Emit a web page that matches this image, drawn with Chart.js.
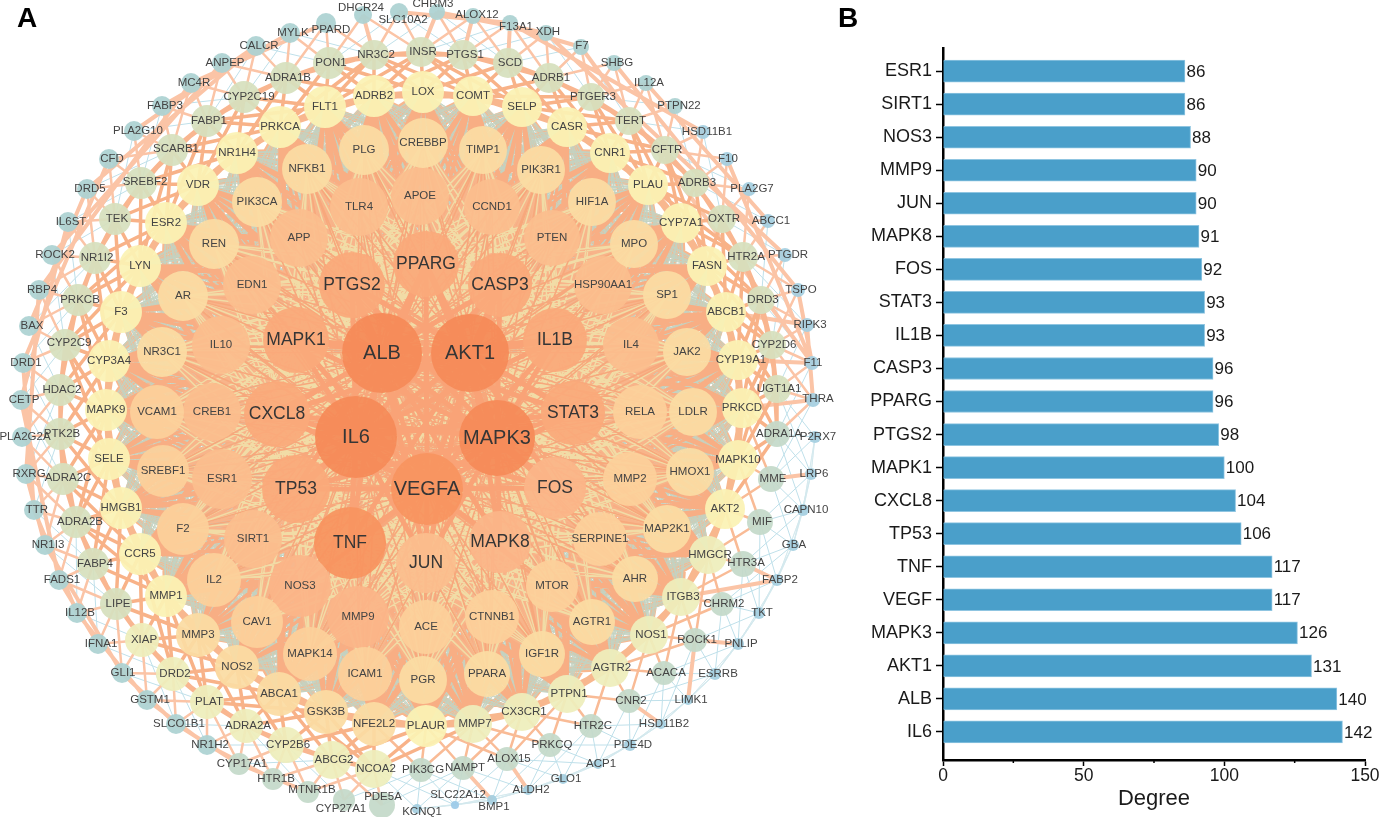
<!DOCTYPE html>
<html>
<head>
<meta charset="utf-8">
<style>
  html, body { margin: 0; padding: 0; background: #fff; overflow: hidden; height: 817px; }
  canvas { position: absolute; }
  /* le bubble chart garde une marge egale au plus grand rayon (41 px) */
  #network { left: -41px; top: -41px; }
  #degree { left: 840px; top: 0; }
  .panel { position: absolute; font: bold 28px "Liberation Sans", sans-serif; color: #000; }
</style>
<script src="https://cdn.jsdelivr.net/npm/chart.js@4"></script>
</head>
<body>
<canvas id="network" width="922" height="899"></canvas>
<canvas id="degree" width="541" height="817"></canvas>
<div class="panel" style="left:17px;top:2px">A</div>
<div class="panel" style="left:838px;top:2px">B</div>
<script>
// Panel A : noeuds [nom, x, y, rayon], par anneau
const ringTop = [
  ['ALB',382,353,40],['AKT1',470,353,39],['IL6',356,437,41],['MAPK3',497,438,38],['VEGFA',427,489,36]
];
const ringSecond = [
  ['TNF',350,543,36],['TP53',296,489,34],['CXCL8',277,414,33],['MAPK1',296,340,33],['PTGS2',352,285,33],
  ['PPARG',426,264,33],['CASP3',500,285,32],['IL1B',555,340,32],['STAT3',573,413,32],['FOS',555,488,31],
  ['MAPK8',500,542,31],['JUN',426,563,30]
];
const ringThird = [
  ['IL10',221,345,29],['EDN1',252,285,29],['APP',299,238,29],['TLR4',359,207,29],['APOE',420,196,29],
  ['CCND1',492,207,28],['PTEN',552,238,28],['HSP90AA1',603,285,29],['IL4',631,345,28],['RELA',640,412,27],
  ['MMP2',630,479,27],['SERPINE1',600,539,27],['MTOR',552,586,26],['CTNNB1',492,617,27],['ACE',426,627,27],
  ['MMP9',358,617,31],['NOS3',300,586,31],['SIRT1',253,539,29],['ESR1',222,479,30],['CREB1',212,412,29],
  ['VCAM1',157,412,27],['SREBF1',163,471,26],['F2',183,529,26],['IL2',214,580,27],['CAV1',257,622,26],
  ['MAPK14',310,654,27],['ICAM1',365,674,27]
];
const ringFourth = [
  ['AR',183,296,25],['REN',214,244,25],['PIK3CA',257,202,25],['NFKB1',307,169,25],['PLG',364,150,25],
  ['CREBBP',423,143,25],['TIMP1',483,150,24],['PIK3R1',541,170,24],['HIF1A',592,202,24],['MPO',634,244,24],
  ['SP1',667,295,24],['JAK2',687,352,24],['NR3C1',162,352,25],['LDLR',693,412,24],['HMOX1',690,472,24],
  ['MAP2K1',667,529,24],['AHR',635,579,23],['AGTR1',592,622,23],['IGF1R',542,654,23],['PPARA',487,674,23],
  ['PGR',423,680,24]
];
const ringYellow = [
  ['LYN',140,266,21],['F3',121,312,21],['CYP3A4',109,361,21],['MAPK9',106,410,21],['SELE',109,459,21],
  ['HMGB1',121,508,21],['CCR5',140,554,21],['MMP1',166,596,21],['MMP3',198,635,22],['NOS2',237,667,22],
  ['ABCA1',279,694,22],['GSK3B',326,712,22],['NFE2L2',374,724,22],['PLAUR',426,726,21],['MMP7',473,724,19],
  ['CX3CR1',522,712,19],['PTPN1',567,694,19],['AGTR2',610,668,19],['NOS1',649,635,19],['ITGB3',681,597,19],
  ['HMGCR',708,555,19],['AKT2',725,509,20],['MAPK10',738,460,20],['PRKCD',742,408,20],['CYP19A1',738,360,20],
  ['ABCB1',726,312,20],['FASN',707,266,20],['CYP7A1',681,223,20],['PLAU',648,185,20],['CNR1',610,153,20],
  ['CASR',567,127,20],['SELP',522,107,20],['COMT',473,96,20],['LOX',423,92,21],['ADRB2',374,96,21],
  ['FLT1',325,107,21],['PRKCA',280,127,21],['NR1H4',237,153,21],['VDR',198,185,21],['ESR2',166,223,21]
];
const ringGreen = [
  ['NR3C2',374,55,15],['INSR',421,52,15],['PTGS1',463,55,15],['SCD',508,63,15],['ADRB1',549,78,15],
  ['PTGER3',591,97,14],['TERT',629,121,14],['CFTR',665,150,14],['ADRB3',695,183,14],['OXTR',722,219,14],
  ['HTR2A',743,257,15],['DRD3',761,300,14],['CYP2D6',772,345,14],['UGT1A1',777,389,14],['ADRA1A',777,434,13],
  ['MME',771,479,13],['MIF',760,522,13],['HTR3A',743,564,13],['CHRM2',722,604,12],['ROCK1',695,640,12],
  ['ACACA',664,673,12],['CNR2',629,701,12],['HTR2C',591,726,12],['PRKCQ',550,745,12],['ALOX15',507,759,12],
  ['NAMPT',463,768,12],['PIK3CG',421,770,12],['NCOA2',374,769,19],['ABCG2',332,760,19],['CYP2B6',286,745,18],
  ['ADRA2A',246,726,17],['PLAT',207,702,17],['DRD2',173,674,17],['XIAP',142,640,17],['LIPE',116,604,16],
  ['FABP4',93,564,16],['ADRA2B',76,522,16],['ADRA2C',63,479,16],['PTK2B',60,434,16],['HDAC2',60,390,16],
  ['CYP2C9',65,345,16],['PRKCB',78,300,16],['NR1I2',95,258,16],['TEK',115,219,16],['SREBF2',141,183,16],
  ['SCARB1',172,150,16],['FABP1',207,121,16],['CYP2C19',244,97,16],['ADRA1B',286,78,16],['PON1',329,63,16]
];
const ringOuter = [
  ['DHCR24',363,15,9],['SLC10A2',399,12,9],['CHRM3',437,12,8],['ALOX12',473,16,8],['F13A1',510,23,8],
  ['XDH',546,33,8],['F7',581,47,8],['SHBG',614,63,8],['IL12A',646,83,8],['PTPN22',675,106,8],
  ['HSD11B1',703,132,7],['F10',727,159,7],['PLA2G7',749,189,7],['ABCC1',768,221,7],['PTGDR',785,255,7],
  ['TSPO',798,290,7],['RIPK3',807,325,7],['F11',812,363,7],['THRA',813,400,7],['P2RX7',815,437,6],
  ['LRP6',811,474,6],['CAPN10',803,510,6],['GBA',793,545,6],['FABP2',777,580,6],['TKT',759,613,6],
  ['PNLIP',738,644,6],['ESRRB',715,674,6],['LIMK1',688,700,5],['HSD11B2',661,724,5],['PDE4D',630,745,6],
  ['ACP1',598,764,5],['GLO1',563,779,5],['ALDH2',528,790,5],['BMP1',492,800,5],['SLC22A12',455,805,4],
  ['KCNQ1',417,809,5],['PDE5A',382,805,13],['CYP27A1',344,800,11],['MTNR1B',308,792,11],['HTR1B',273,779,11],
  ['CYP17A1',239,764,11],['NR1H2',207,745,10],['SLCO1B1',176,724,10],['GSTM1',147,700,10],['GLI1',122,673,10],
  ['IFNA1',98,644,10],['IL12B',77,613,10],['FADS1',59,580,10],['NR1I3',45,545,10],['TTR',34,510,10],
  ['RXRG',26,474,10],['PLA2G2A',22,437,10],['CETP',21,400,10],['DRD1',23,363,10],['BAX',29,326,10],
  ['RBP4',39,290,10],['ROCK2',52,255,10],['IL6ST',68,222,10],['DRD5',87,189,10],['CFD',109,159,10],
  ['PLA2G10',134,131,10],['FABP3',162,106,10],['MC4R',191,83,10],['ANPEP',222,63,10],['CALCR',256,46,10],
  ['MYLK',290,33,10],['PPARD',326,23,10]
];

// Etiquettes deplacees par rapport au centre du noeud
const labelShift = {
  DHCR24:[-2,-7], SLC10A2:[4,8], CHRM3:[-4,-8], ALOX12:[4,-1], F13A1:[6,4], XDH:[2,-1], F7:[1,-1], F10:[1,0],
  F11:[1,0], THRA:[5,-1], GBA:[1,0], BMP1:[2,7], SLC22A12:[3,-10], KCNQ1:[5,3], PDE5A:[1,-8], CYP27A1:[-3,9],
  PPARD:[5,7], MTNR1B:[4,-2], PLA2G10:[4,0], PTPN22:[4,0], HSD11B1:[4,0], GLI1:[1,0], CYP19A1:[3,0],
  CYP2C19:[5,0], SCARB1:[4,-1], SREBF2:[4,-1], CYP2C9:[4,-2], ADRA2C:[5,-1], ADRA2B:[4,0], HTR2A:[3,0], HTR3A:[3,-1]
};

// Liaisons epaisses du pourtour
const outerChords = [
  ['BAX','DRD5'],['DRD1','CFD'],['RBP4','MC4R'],['ROCK2','ANPEP'],['DRD5','CALCR'],['PLA2G10','CALCR'],
  ['FABP3','MYLK'],['MC4R','PPARD'],['CETP','IL6ST'],['RXRG','RBP4'],['TTR','DRD1'],['FADS1','CETP'],
  ['NR1I3','RXRG'],['IL12B','TTR'],['GLI1','NR1I3'],['IFNA1','FADS1'],['GSTM1','IL12B'],['SLCO1B1','GLI1'],
  ['NR1H2','GSTM1'],['CYP17A1','SLCO1B1'],['HTR1B','NR1H2'],['MTNR1B','CYP17A1'],['F7','F11'],['XDH','PTGDR'],
  ['SHBG','TSPO'],['IL12A','ABCC1'],['F13A1','HSD11B1'],['ALOX12','F7'],['CHRM3','XDH'],['SLC10A2','F13A1'],
  ['RIPK3','THRA'],['F10','F11'],['TSPO','F11'],['LRP6','MME'],['BMP1','NAMPT'],['ALDH2','ALOX15'],
  ['FABP2','ITGB3'],['THRA','PRKCD'],['F11','CYP19A1'],['RIPK3','ABCB1'],['LIMK1','ROCK1'],['PNLIP','ROCK1'],
  ['FABP2','HTR3A'],['HSD11B2','CNR2'],['CHRM3','INSR'],['ALOX12','PTGS1'],['F13A1','SCD'],['DHCR24','NR3C2']
];

// Panel B
const categories = ['ESR1','SIRT1','NOS3','MMP9','JUN','MAPK8','FOS','STAT3','IL1B','CASP3','PPARG','PTGS2','MAPK1','CXCL8','TP53','TNF','VEGF','MAPK3','AKT1','ALB','IL6'];
const degreeValues = [86,86,88,90,90,91,92,93,93,96,96,98,100,104,106,117,117,126,131,140,142];
const xTicks = [0,50,100,150];
const xMinorTicks = [25,75,125];

const FONT = '"Liberation Sans", Arial, sans-serif';
const allRings = [ringTop, ringSecond, ringThird, ringFourth, ringYellow, ringGreen, ringOuter];
const allNodes = allRings.flat();
const nodeByName = {};
allNodes.forEach(n => { nodeByName[n[0]] = n; });

// couleur du noeud selon son rayon
const colorStops = [[4,'#9ccbe8'],[7,'#a5cfe0'],[10,'#add2d2'],[13,'#c4d9c9'],[16,'#d6e0be'],[19,'#eeeebb'],[21,'#fbf2b4'],[25,'#fbdca3'],[27,'#fcd09a'],[30,'#fbbe8d'],[31,'#fbb588'],[34,'#faa97a'],[36,'#f7945f'],[41,'#f58a58']];
function nodeColor(r) {
  let hit = colorStops[colorStops.length - 1][1];
  for (const s of colorStops) { if (r <= s[0]) { hit = s[1]; break; } }
  return hit;
}

function pairs(listA, listB) {
  const out = [];
  for (const a of listA) for (const b of listB) {
    if (a !== b) out.push({x: a[1], y: a[2]}, {x: b[1], y: b[2]}, {x: null, y: null});
  }
  return out;
}
function named(list) {
  const out = [];
  for (const [a, b] of list) {
    out.push({x: nodeByName[a][1], y: nodeByName[a][2]}, {x: nodeByName[b][1], y: nodeByName[b][2]}, {x: null, y: null});
  }
  return out;
}
function lineSet(data, color, width, order) {
  return {type: 'line', data, borderColor: color, borderWidth: width, pointRadius: 0, order, spanGaps: false, borderCapStyle: 'butt'};
}
function nearby(listA, listB, dist) {
  const out = [];
  for (const a of listA) for (const b of listB) {
    if (a !== b && Math.hypot(a[1] - b[1], a[2] - b[2]) < dist) out.push({x: a[1], y: a[2]}, {x: b[1], y: b[2]}, {x: null, y: null});
  }
  return out;
}

const hubs = ringTop.concat(ringSecond);
const inner = ringThird.concat(ringFourth);
// le quart bas droit du reseau est plus clairseme
const sparseGreen = ringGreen.slice(15, 27);
const denseGreen = ringGreen.slice(0, 15).concat(ringGreen.slice(27));
const sparseOuter = ringOuter.slice(19, 36);
const denseOuter = ringOuter.slice(0, 19).concat(ringOuter.slice(36));

const networkSets = [
  {
    type: 'bubble',
    data: allNodes.map(n => ({x: n[1], y: n[2], r: n[3]})),
    backgroundColor: allNodes.map(n => nodeColor(n[3]) + 'ee'),
    borderWidth: 0,
    order: 0
  },
  lineSet(pairs(ringTop, ringSecond), '#f9a377', 5, 1),
  lineSet(pairs(ringTop, inner), '#f7a87c', 1.6, 2),
  lineSet(pairs(ringSecond, inner), '#f1dca6', 1.4, 3),
  lineSet(pairs(ringTop, ringSecond.concat(ringThird)), '#b9d2c8', 1.3, 4),
  lineSet(pairs(hubs, inner), '#f8b48a', 5, 5),
  lineSet(pairs(hubs, ringYellow), '#f8ae84', 3, 6),
  lineSet(pairs(inner, ringYellow), '#c3d2c2', 0.9, 6.5),
  lineSet(nearby(inner, ringYellow, 140), '#f8b78e', 6, 7),
  lineSet(nearby(inner, inner, 110), '#f8b78e', 6, 7.5),
  lineSet(nearby(ringYellow, denseGreen, 125), '#f8b288', 3.5, 8),
  lineSet(nearby(ringYellow, ringYellow, 105), '#f8b78e', 5, 9),
  lineSet(nearby(ringYellow, sparseGreen, 90), '#f9bb96', 2.5, 10),
  lineSet(nearby(denseGreen, denseGreen, 95), '#f9b690', 3.5, 11),
  lineSet(nearby(denseOuter, denseGreen, 70), '#fbc4a6', 2.5, 12),
  lineSet(named(outerChords), '#fbc4a6', 4, 13),
  lineSet(nearby(ringOuter, ringGreen, 95), '#bfe0ea', 1, 14),
  lineSet(nearby(sparseOuter, sparseOuter, 110), '#d3e8ee', 0.8, 15)
];

const nodeLabels = {
  id: 'nodeLabels',
  afterDatasetsDraw(chart) {
    const {ctx, scales} = chart;
    ctx.save();
    ctx.textAlign = 'center';
    ctx.textBaseline = 'middle';
    allRings.forEach((ring, i) => {
      const size = i === 0 ? 20 : i === 1 ? 17.5 : 11.5;
      ctx.font = size + 'px ' + FONT;
      ctx.fillStyle = i < 2 ? '#363636' : '#444444';
      for (const n of ring) {
        const base = n[3] <= 11 ? 3 : n[3] <= 19 ? 2 : 0;
        const s = labelShift[n[0]] || [base, 0];
        ctx.fillText(n[0], scales.x.getPixelForValue(n[1] + s[0]), scales.y.getPixelForValue(n[2] + s[1]));
      }
    });
    ctx.restore();
  }
};

new Chart(document.getElementById('network'), {
  type: 'bubble',
  data: {datasets: networkSets},
  plugins: [nodeLabels],
  options: {
    responsive: false,
    animation: false,
    events: [],
    layout: {padding: 0},
    plugins: {legend: {display: false}, tooltip: {enabled: false}},
    scales: {
      x: {type: 'linear', min: 0, max: 840, display: false},
      y: {type: 'linear', min: 0, max: 817, reverse: true, display: false}
    }
  }
});

// valeurs au bout des barres + petits traits de l'axe x
const barExtras = {
  id: 'barExtras',
  afterDatasetsDraw(chart) {
    const {ctx, scales} = chart;
    ctx.save();
    ctx.fillStyle = '#1a1a1a';
    ctx.font = '17px ' + FONT;
    ctx.textBaseline = 'middle';
    degreeValues.forEach((v, i) => {
      ctx.fillText(String(v), scales.x.getPixelForValue(v) + 1.5, scales.y.getPixelForValue(i) + 1);
    });
    ctx.strokeStyle = '#000';
    ctx.lineWidth = 1.5;
    const bottom = chart.chartArea.bottom;
    for (const t of xMinorTicks) {
      const px = scales.x.getPixelForValue(t);
      ctx.beginPath();
      ctx.moveTo(px, bottom);
      ctx.lineTo(px, bottom + 3);
      ctx.stroke();
    }
    ctx.restore();
  }
};

new Chart(document.getElementById('degree'), {
  type: 'bar',
  data: {
    datasets: [{
      data: degreeValues.map((v, i) => ({x: v, y: i})),
      backgroundColor: '#4a9fca',
      borderColor: '#8fc5e1',
      borderWidth: 1,
      barThickness: 22
    }]
  },
  plugins: [barExtras],
  options: {
    indexAxis: 'y',
    responsive: false,
    animation: false,
    events: [],
    layout: {padding: {top: 48, right: 16, left: 0, bottom: 5}},
    plugins: {legend: {display: false}, tooltip: {enabled: false}},
    scales: {
      x: {
        type: 'linear', min: 0, max: 150,
        afterBuildTicks: s => { s.ticks = xTicks.map(value => ({value})); },
        afterFit: s => { s.height = 52; },
        grid: {drawOnChartArea: false, drawTicks: true, tickLength: 6, tickColor: '#000', tickWidth: 1.5},
        border: {color: '#000', width: 2.5},
        ticks: {color: '#1a1a1a', font: {family: FONT, size: 17.5}, padding: 0, maxRotation: 0, autoSkip: false},
        title: {display: true, text: 'Degree', color: '#1a1a1a', font: {family: FONT, size: 22}, padding: {top: 0, bottom: 0}}
      },
      y: {
        type: 'linear', min: -0.7, max: 20.85, reverse: true, offset: false,
        afterBuildTicks: s => { s.ticks = categories.map((c, i) => ({value: i})); },
        afterFit: s => { s.width = 103; },
        grid: {offset: false, drawOnChartArea: false, drawTicks: true, tickLength: 7, tickColor: '#000', tickWidth: 1.5},
        border: {color: '#000', width: 2.5},
        ticks: {
          color: '#1a1a1a', font: {family: FONT, size: 18}, padding: 4, autoSkip: false,
          callback: v => categories[v]
        }
      }
    }
  }
});
</script>
</body>
</html>
